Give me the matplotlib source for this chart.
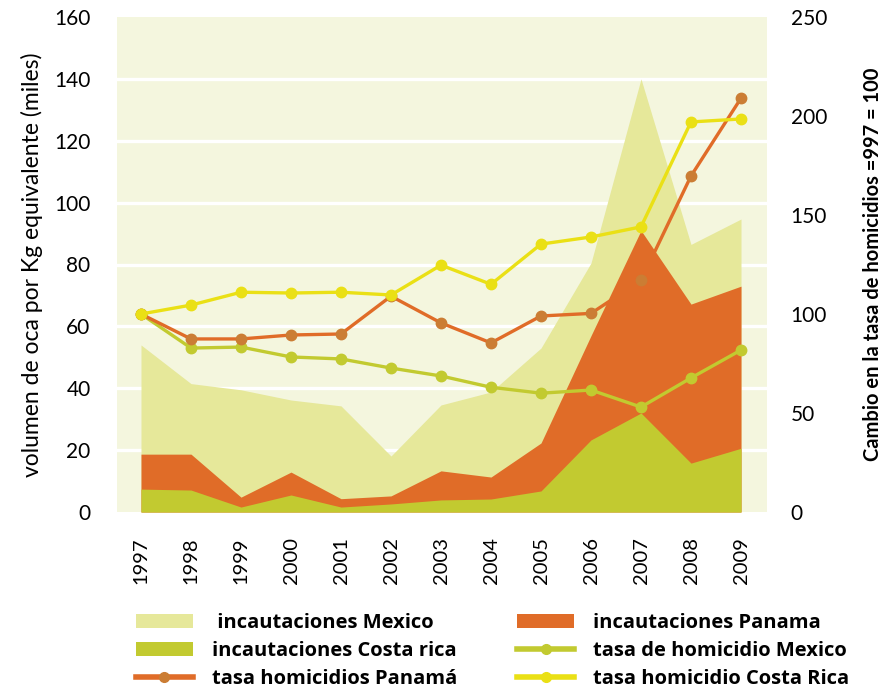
import matplotlib
matplotlib.use("Agg")
import matplotlib.pyplot as plt
from matplotlib.patches import Patch
from matplotlib.lines import Line2D

years = ["1997", "1998", "1999", "2000", "2001", "2002", "2003",
         "2004", "2005", "2006", "2007", "2008", "2009"]

# seizures (left axis, thousands of kg)
incaut_mexico = [54, 41.5, 39.5, 36.2, 34.3, 18.1, 34.6, 38.8, 53, 80.5, 140, 86.5, 94.7]
incaut_panama = [18.7, 18.7, 4.8, 12.9, 4.3, 5.2, 13.3, 11.3, 22.3, 57, 91, 67.2, 73]
incaut_costarica = [7.4, 7.1, 1.6, 5.5, 1.6, 2.6, 3.9, 4.2, 6.8, 23.3, 32, 15.8, 20.6]

# homicide rate index (right axis, 1997 = 100)
hom_mexico = [100, 82.8, 83.3, 78.3, 77.3, 72.7, 68.7, 63, 60, 61.6, 53, 67.7, 81.8]
hom_panama = [100, 87.4, 87.4, 89.4, 89.9, 109, 95.5, 85.4, 99, 100.3, 117, 169.7, 209]
hom_costarica = [100, 104.5, 111, 110.6, 111, 109.6, 124.7, 115, 135.3, 138.9, 144, 197, 198.5]

c_mex_area = "#E6E89A"
c_pan = "#E06C28"
c_pan_mk = "#CB7D34"
c_cr = "#C2CA30"
c_yel = "#EAE015"
c_bg = "#F4F6DE"

plt.rcParams['font.family'] = ['Lato', 'DejaVu Sans']

fig = plt.figure(figsize=(8.85, 6.89), dpi=100)
ax = fig.add_axes([117/885, 1-512/689, 650/885, 495/689])
ax.set_facecolor(c_bg)
x = list(range(len(years)))

ax.fill_between(x, 0, incaut_mexico, color=c_mex_area, lw=0, zorder=2)
ax.fill_between(x, 0, incaut_panama, color=c_pan, lw=0, zorder=3)
ax.fill_between(x, 0, incaut_costarica, color=c_cr, lw=0, zorder=4)

ax.set_xlim(-0.48, 12.52)
ax.set_ylim(0, 160)
ax.set_yticks(range(0, 161, 20))
ax.set_xticks(x)
ax.set_xticklabels(years, rotation=90, fontsize=14.5)
ax.tick_params(axis='y', labelsize=15, length=0, pad=19)
ax.tick_params(axis='x', length=0, pad=18)
for v in range(20, 160, 20):
    ax.axhline(v, color="white", lw=2.4, zorder=1)
for s in ax.spines.values():
    s.set_visible(False)
ax.set_ylabel("volumen de oca por Kg equivalente (miles)", fontsize=16.5, labelpad=8)

ax2 = ax.twinx()
ax2.set_ylim(0, 250)
ax2.set_yticks(range(0, 251, 50))
ax2.tick_params(axis='y', labelsize=15, length=0, pad=17)
for s in ax2.spines.values():
    s.set_visible(False)
lw = 2.4
ax2.plot(x, hom_mexico, color=c_cr, lw=lw, marker='o', ms=7.5, mfc=c_cr, mec=c_cr, zorder=3)
ax2.plot(x, hom_panama, color=c_pan, lw=lw, marker='o', ms=7.5, mfc=c_pan_mk, mec=c_pan_mk, zorder=4)
ax2.plot(x, hom_costarica, color=c_yel, lw=lw, marker='o', ms=7.5, mfc=c_yel, mec=c_yel, zorder=5)
ax2.set_ylabel("Cambio en la tasa de homicidios =997 = 100", fontsize=14.5,
               fontweight='bold', labelpad=26)

handles = [
    Patch(facecolor=c_mex_area, edgecolor='none'),
    Patch(facecolor=c_cr, edgecolor='none'),
    Line2D([], [], color=c_pan, lw=4, marker='o', ms=7, mfc=c_pan_mk, mec=c_pan_mk),
    Patch(facecolor=c_pan, edgecolor='none'),
    Line2D([], [], color=c_cr, lw=4, marker='o', ms=7, mfc=c_cr, mec=c_cr),
    Line2D([], [], color=c_yel, lw=4, marker='o', ms=7, mfc=c_yel, mec=c_yel),
]
labels = [" incautaciones Mexico", "incautaciones Costa rica", "tasa homicidios Panamá",
          "incautaciones Panama", "tasa de homicidio Mexico", "tasa homicidio Costa Rica"]
fig.legend(handles, labels, ncol=2, loc='upper left', bbox_to_anchor=(118/885, 1-595/689),
           frameon=False, prop={'family': 'Open Sans', 'size': 14.5, 'weight': 'bold'},
           handlelength=2.8, handleheight=0.65, handletextpad=0.95, columnspacing=3.0,
           labelspacing=0.4)

fig.savefig("out.png", dpi=100)
